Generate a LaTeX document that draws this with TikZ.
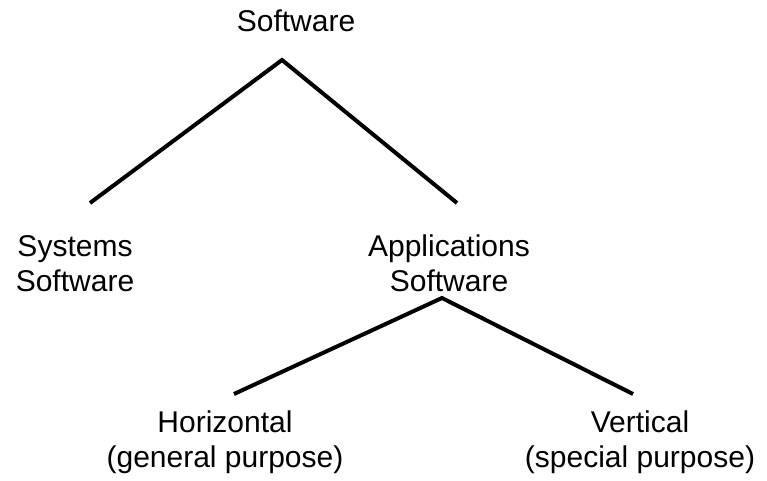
\documentclass[tikz,border=0pt]{standalone}
\usepackage{fontspec}
\setmainfont{Liberation Sans}
\begin{document}
\begin{tikzpicture}[x=1pt,y=-1pt,
  lbl/.style={align=center, inner sep=0pt, font=\fontsize{30}{35}\selectfont, anchor=base},
  link/.style={line width=4pt, line join=miter}]
\useasboundingbox (0,0) rectangle (767,481);
\node[lbl] (sw)   at (296,32)  {Software};
\node[lbl] (sys)  at (75,291)  {Systems\\Software};
\node[lbl] (app)  at (449,291) {Applications\\Software};
\node[lbl] (hor)  at (225,467) {Horizontal\\(general purpose)};
\node[lbl] (ver)  at (640,467) {Vertical\\(special purpose)};
\coordinate (p1) at (282,60);
\coordinate (e1) at (90,203);
\coordinate (e2) at (457,203);
\coordinate (p2) at (442,298);
\coordinate (e3) at (234,394);
\coordinate (e4) at (633,394);
\draw[link] (e1) -- (p1) -- (e2);
\draw[link] (e3) -- (p2) -- (e4);
\end{tikzpicture}
\end{document}
